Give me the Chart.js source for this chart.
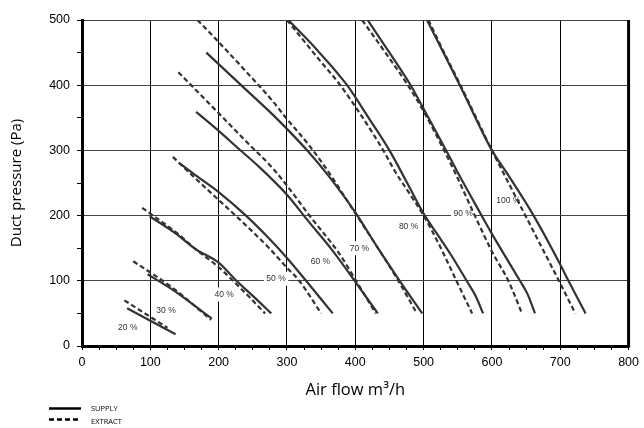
<!DOCTYPE html>
<html>
<head>
<meta charset="utf-8">
<script src="https://cdn.jsdelivr.net/npm/chart.js@4.4.1/dist/chart.umd.min.js"></script>
<style>
  body { margin: 0; background: #fff; }
  #wrap { width: 644px; height: 428px; }
</style>
</head>
<body>
<div id="wrap"><canvas id="fanChart" width="644" height="428"></canvas></div>
<script>
// fan curves: [air flow m3/h, duct pressure Pa]
const supply20 = [[66, 58], [137, 18]];
const extract20 = [[62, 70], [125, 28]];
const supply30 = [[96, 110], [133, 86], [190, 42]];
const extract30 = [[75, 130], [133, 89], [189, 40]];
const supply40 = [[99, 199], [138, 172], [167, 148], [200, 128], [226, 100], [252, 75], [277, 50]];
const extract40 = [[88, 212], [138, 174], [167, 148], [201, 120], [221, 100], [245, 75], [268, 50]];
const supply50 = [[143, 280], [162, 265], [200, 236], [240, 200], [270, 169], [300, 135], [328, 100], [367, 50]];
const extract50 = [[133, 290], [164, 259], [200, 224], [240, 185], [274, 150], [300, 120], [318, 100], [350, 50]];
const supply60 = [[167, 359], [200, 330], [231, 301], [260, 274], [300, 232], [330, 193], [367, 146], [399, 100], [433, 50]];
const extract60 = [[141, 420], [201, 356], [240, 314], [278, 274], [300, 246], [333, 200], [377, 141], [400, 102], [430, 50]];
const supply70 = [[182, 450], [236, 397], [278, 356], [300, 333], [333, 296], [360, 262], [400, 205], [432, 152], [465, 100], [498, 50]];
const extract70 = [[169, 500], [202, 464], [240, 421], [278, 377], [300, 348], [333, 307], [362, 265], [401, 202], [432, 152], [463, 100], [489, 52]];
const supply80 = [[302, 500], [345, 453], [388, 400], [420, 349], [450, 300], [477, 248], [500, 203], [521, 170], [540, 140], [563, 100], [576, 77], [587, 50]];
const extract80 = [[300, 500], [348, 438], [378, 400], [441, 300], [458, 268], [478, 236], [500, 200], [522, 157], [548, 100], [571, 50]];
const supply90 = [[418, 500], [450, 450], [481, 400], [500, 364], [533, 300], [549, 268], [585, 200], [600, 172], [641, 100], [652, 80], [663, 50]];
const extract90 = [[410, 500], [444, 450], [477, 400], [500, 360], [530, 300], [546, 266], [575, 200], [600, 145], [624, 100], [644, 50]];
const supply100 = [[505, 500], [528, 452], [553, 400], [600, 300], [622, 265], [661, 200], [700, 125], [712, 100], [737, 50]];
const extract100 = [[507, 500], [530, 450], [554, 400], [600, 300], [617, 265], [649, 200], [698, 100], [722, 50]];

const supplySeries = [supply20, supply30, supply40, supply50, supply60, supply70, supply80, supply90, supply100];
const extractSeries = [extract20, extract30, extract40, extract50, extract60, extract70, extract80, extract90, extract100];

const percentLabels = ['20 %', '30 %', '40 %', '50 %', '60 %', '70 %', '80 %', '90 %', '100 %'];
const labelX = [67, 123, 208, 284, 349, 406, 478, 558, 624];
const labelY = [28, 54, 79, 103, 129, 150, 183, 203, 223];

const legendNames = ['SUPPLY', 'EXTRACT'];

const lineColor = '#333';

let datasets = [];
supplySeries.forEach((s, i) => {
    datasets.push({
        label: 'Supply ' + percentLabels[i],
        data: s.map(p => ({x: p[0], y: p[1]})),
        borderDash: []
    });
    datasets.push({
        label: 'Extract ' + percentLabels[i],
        data: extractSeries[i].map(p => ({x: p[0], y: p[1]})),
        borderDash: [5, 3]
    });
});

// percent labels with white box, under the curves
const percentPlugin = {
    id: 'percentLabels',
    beforeDatasetsDraw(chart) {
        const {ctx, scales: {x, y}} = chart;
        ctx.save();
        ctx.font = '8.5px "Liberation Sans", Arial, sans-serif';
        ctx.textAlign = 'center';
        ctx.textBaseline = 'middle';
        percentLabels.forEach((t, i) => {
            let px = x.getPixelForValue(labelX[i]);
            let py = y.getPixelForValue(labelY[i]);
            let w = ctx.measureText(t).width + 5;
            ctx.fillStyle = '#fff';
            ctx.fillRect(px - w / 2, py - 7, w, 14);
            ctx.fillStyle = '#333';
            ctx.fillText(t, px, py);
        });
        ctx.restore();
    },
    afterDraw(chart) {
        const {ctx, chartArea} = chart;
        ctx.save();
        // thick right frame
        ctx.strokeStyle = '#000';
        ctx.lineWidth = 3;
        ctx.beginPath();
        ctx.moveTo(chartArea.right, chartArea.top);
        ctx.lineTo(chartArea.right, chartArea.bottom + 1.5);
        ctx.stroke();

        // legend
        ctx.lineWidth = 2.5;
        ctx.beginPath();
        ctx.moveTo(49, 408.5);
        ctx.lineTo(81, 408.5);
        ctx.stroke();
        ctx.setLineDash([5, 3]);
        ctx.beginPath();
        ctx.moveTo(49, 419.5);
        ctx.lineTo(81, 419.5);
        ctx.stroke();
        ctx.setLineDash([]);
        ctx.fillStyle = '#000';
        ctx.font = '7.5px "Open Sans", sans-serif';
        ctx.textBaseline = 'middle';
        ctx.textAlign = 'left';
        ctx.fillText(legendNames[0], 91, 409);
        ctx.fillText(legendNames[1], 91, 422);
        ctx.restore();
    }
};

new Chart(document.getElementById('fanChart'), {
    type: 'line',
    data: {datasets: datasets},
    plugins: [percentPlugin],
    options: {
        responsive: false,
        animation: false,
        devicePixelRatio: 1,
        layout: {padding: {top: 20, right: 13, left: 0, bottom: 22}},
        plugins: {legend: {display: false}, tooltip: {enabled: false}},
        elements: {
            point: {radius: 0},
            line: {borderWidth: 2.2, borderColor: lineColor, cubicInterpolationMode: 'monotone', fill: false}
        },
        scales: {
            x: {
                type: 'linear', min: 0, max: 800,
                ticks: {
                    stepSize: 25, autoSkip: false, maxRotation: 0, padding: 5,
                    callback: v => v % 100 === 0 ? v : '',
                    font: {family: '"Liberation Sans", Arial', size: 12.5}, color: '#000'
                },
                grid: {
                    color: c => c.tick && c.tick.value % 100 === 0 ? '#000' : 'rgba(0,0,0,0)',
                    tickColor: '#000', tickLength: 4, lineWidth: 1
                },
                border: {color: '#000', width: 3},
                title: {display: true, text: 'Air flow m³/h', color: '#000',
                        font: {family: '"Open Sans"', size: 16.5}, padding: {top: 0, bottom: 6}},
                afterFit: s => { s.height = 60; }
            },
            y: {
                type: 'linear', min: 0, max: 500,
                ticks: {
                    stepSize: 50, autoSkip: false, padding: 7,
                    callback: v => v % 100 === 0 ? v : '',
                    font: {family: '"Liberation Sans", Arial', size: 12.5}, color: '#000'
                },
                grid: {
                    color: c => c.tick && c.tick.value % 100 === 0 ? '#444' : 'rgba(0,0,0,0)',
                    tickColor: '#000', tickLength: 5, lineWidth: 1
                },
                border: {color: '#000', width: 3},
                title: {display: true, text: 'Duct pressure (Pa)', color: '#000',
                        font: {family: '"Open Sans"', size: 15}, padding: {top: 8, bottom: 0}},
                afterFit: s => { s.width = 82; }
            }
        }
    }
});
</script>
</body>
</html>
